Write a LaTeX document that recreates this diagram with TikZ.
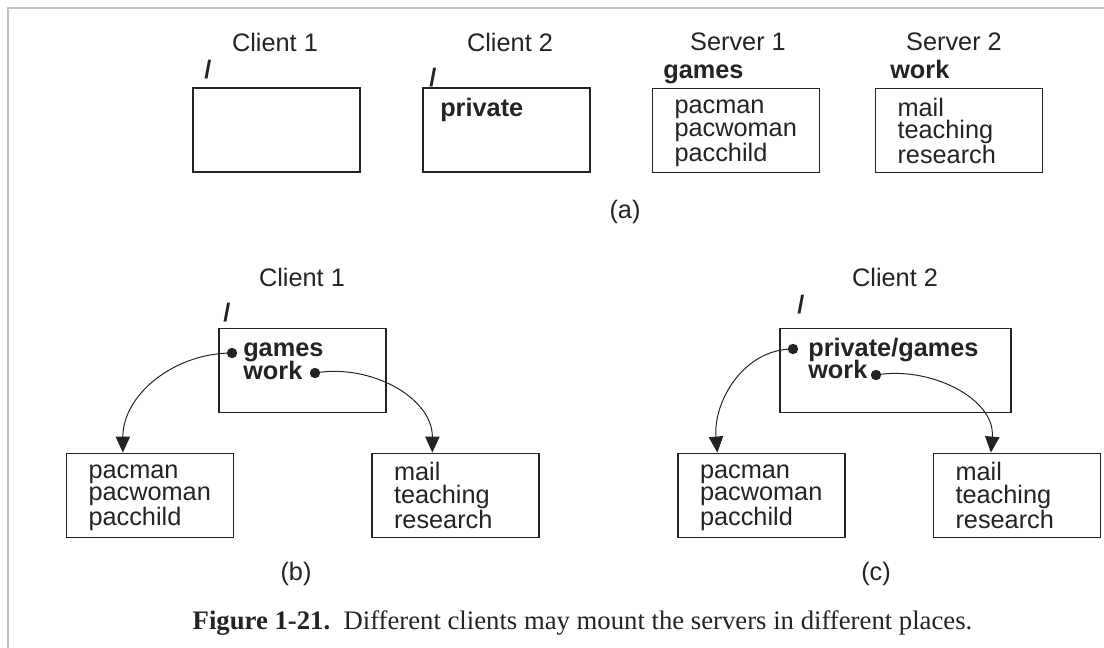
\documentclass[tikz,border=0pt]{standalone}
\usepackage{fontspec}
\setmainfont{Liberation Sans}
\newfontfamily\capfont{Liberation Serif}
\usetikzlibrary{arrows.meta, positioning, calc}
\definecolor{ink}{RGB}{35,35,35}
\definecolor{rule}{RGB}{195,195,195}
% keeps the first line of every listing at the same height
\newcommand{\toprow}{\rule{0pt}{0.75em}}

\begin{document}
\begin{tikzpicture}[
            lbl/.style={font=\fontsize{18}{16}\selectfont, text=ink},
            rt/.style={lbl, font=\fontsize{18}{16}\selectfont\bfseries},
            hd/.style={rt, anchor=base west, inner sep=0pt, text depth=0pt},
            dirbox/.style={draw=ink, line width=0.9pt, minimum width=4.175cm, minimum height=2.1cm,
                inner xsep=0.55cm, text width=3.075cm, align=left, lbl},
            mnt/.style={-{Triangle[length=0.4cm, width=0.36cm]}, line width=0.7pt, ink},
            mdot/.style={circle, fill=ink, inner sep=0pt, minimum size=0.26cm},
        ]
            \useasboundingbox (0,0) rectangle (27.6,-16.2);

            % Page frame
            \draw[rule, line width=0.05cm] (0.19,-16.2) -- (0.19,-0.2) -- (27.6,-0.2);

            % (a) the four machines apart
            \node[lbl] (c1lbl) at (6.875,-1.05) {Client 1};
            \node[lbl] (c2lbl) at (12.75,-1.05) {Client 2};
            \node[lbl] (s1lbl) at (18.45,-1.05) {Server 1};
            \node[lbl] (s2lbl) at (23.85,-1.05) {Server 2};

            \node[rt] (root1) at (5.2,-1.75) {/};
            \node[rt] (root2) at (10.825,-1.95) {/};
            \node[hd] (games) at (16.575,-1.96) {games};
            \node[hd] (work) at (22.25,-1.96) {work};

            \node[dirbox] (c1a) at (6.91,-3.25) {};
            \node[dirbox] (c2a) at (12.66,-3.25) {};
            \node[dirbox] (s1a) at (18.4,-3.27) {\toprow pacman\\pacwoman\\pacchild};
            \node[dirbox] (s2a) at (23.975,-3.27) {\toprow mail\\teaching\\research};
            \node[hd] (priv) at (11.0,-2.91) {private};

            \node[lbl] (taga) at (15.625,-5.3) {(a)};

            % (b) Client 1 mounts both servers at its root
            \node[lbl] (c1lblb) at (7.55,-6.925) {Client 1};
            \node[rt] (rootb) at (5.675,-7.825) {/};
            \node[dirbox] (c1b) at (7.5625,-9.2625) {};
            \node[hd] (gamesb) at (6.075,-8.9125) {games};
            \node[hd] (workb) at (6.075,-9.4875) {work};
            \node[mdot] (gdotb) at (5.8,-8.825) {};
            \node[mdot] (wdotb) at (7.875,-9.325) {};

            \node[dirbox] (gb) at (3.75,-12.38) {\toprow pacman\\pacwoman\\pacchild};
            \node[dirbox] (wb) at (11.3875,-12.38) {\toprow mail\\teaching\\research};

            \draw[mnt] (gdotb.center) to[out=180, in=90] ($(gb.north west)+(1.425,0)$);
            \draw[mnt] (wdotb.center) to[out=10, in=90] ($(wb.north west)+(1.525,0)$);

            \node[lbl] (tagb) at (7.4,-14.35) {(b)};

            % (c) Client 2 mounts games under private
            \node[lbl] (c2lblc) at (22.375,-6.925) {Client 2};
            \node[rt] (rootc) at (20.025,-7.625) {/};
            \node[dirbox, minimum width=5.775cm, text width=4.675cm] (c2c) at (22.3875,-9.2625) {};
            \node[hd] (pgc) at (20.2,-8.9125) {private/games};
            \node[hd] (workc) at (20.2,-9.4625) {work};
            \node[mdot] (gdotc) at (19.825,-8.725) {};
            \node[mdot] (wdotc) at (21.9,-9.375) {};

            \node[dirbox] (gc) at (19.0375,-12.38) {\toprow pacman\\pacwoman\\pacchild};
            \node[dirbox] (wc) at (25.425,-12.38) {\toprow mail\\teaching\\research};

            \draw[mnt] (gdotc.center) to[out=180, in=95] ($(gc.north west)+(1.0,0)$);
            \draw[mnt] (wdotc.center) to[out=10, in=85] ($(wc.north west)+(1.45,0)$);

            \node[lbl] (tagc) at (21.9,-14.35) {(c)};

            % Caption
            \node[font=\capfont\fontsize{19}{22}\selectfont, text=ink] (cap) at (14.5625,-15.575)
                {\textbf{Figure 1-21.}\ \ Different clients may mount the servers in different places.};
        \end{tikzpicture}
\end{document}
